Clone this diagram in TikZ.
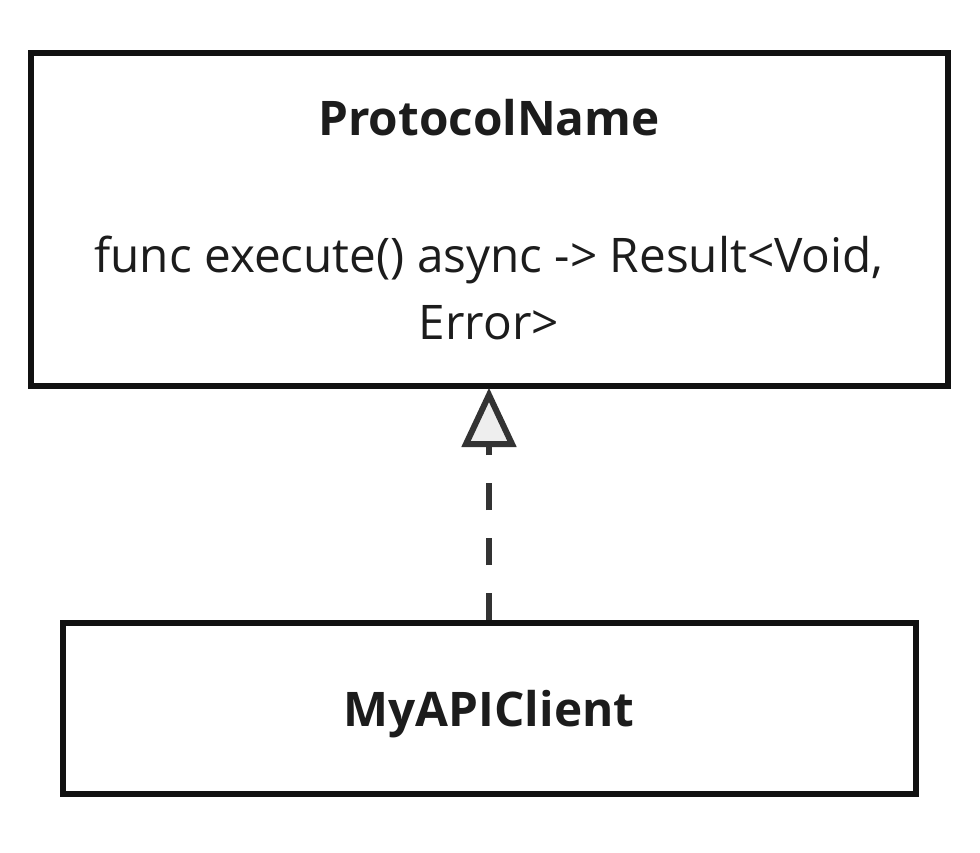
\documentclass[tikz,border=0pt]{standalone}
\usepackage{fontspec}
\setmainfont{Open Sans}
\usetikzlibrary{calc}
\definecolor{ink}{HTML}{111111}
\definecolor{txt}{HTML}{1C1C1C}
\definecolor{arr}{HTML}{333333}
\definecolor{arrfill}{HTML}{EEEEEE}
\begin{document}
\begin{tikzpicture}[x=1pt,y=-1pt,
  box/.style={draw=ink,line width=6pt,fill=white,inner sep=0pt},
  title/.style={text=txt,font=\fontsize{47.7}{67}\selectfont\bfseries,inner sep=0pt},
  body/.style={text=txt,font=\fontsize{47.7}{67}\selectfont,inner sep=0pt},
  dashline/.style={draw=arr,line width=6pt,dash pattern=on 27pt off 28pt},
  headtri/.style={draw=arr,fill=arrfill,line width=6pt,line join=miter}]
\useasboundingbox[fill=white] (0,0) rectangle (980,852);
\node[box, minimum width=917pt, minimum height=333.5pt] (proto) at (489,219.25) {};
\node[box, minimum width=853pt, minimum height=171pt] (client) at (489,708.5) {};
\node[title, anchor=base] (pname) at (489,135) {ProtocolName};
\node[body, anchor=base] (m1) at (489,272) {func execute() async -> Result<Void,};
\node[body, anchor=base] (m2) at (489,339) {Error>};
\node[title, anchor=base] (cname) at (489,726) {MyAPIClient};
\coordinate (tip) at ($(proto.south)+(0,6)$);
\coordinate (tbase) at ($(tip)+(0,49)$);
\draw[dashline] (client.north) -- (tbase);
\draw[headtri] (tip) -- ($(tbase)+(-23,0)$) -- ($(tbase)+(23,0)$) -- cycle;
\end{tikzpicture}
\end{document}
